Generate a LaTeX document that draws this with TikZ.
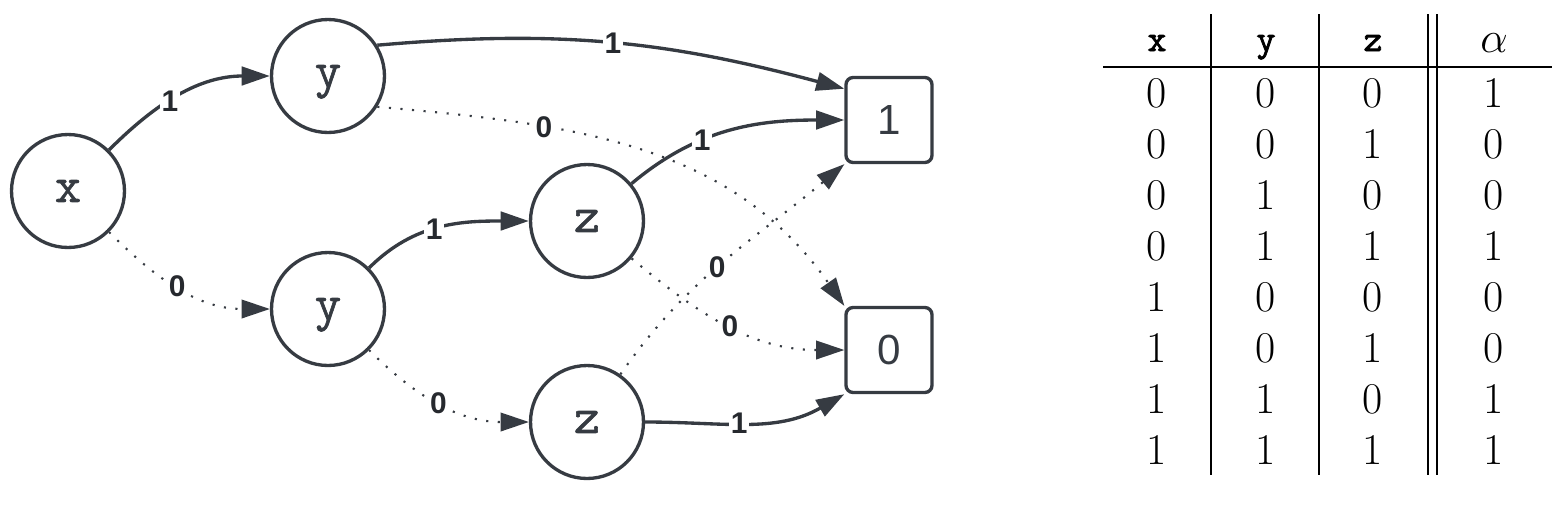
\documentclass[tikz,border=0pt]{standalone}
\usepackage{fontspec}
\setsansfont{Liberation Sans}
\newfontfamily\vartt{Latin Modern Mono}[FakeBold=1.2]
\newfontfamily\headtt{Latin Modern Mono}[FakeBold=2.2]
\usetikzlibrary{arrows.meta}
\definecolor{ink}{RGB}{54,59,66}
\tikzset{
    var/.style={draw=ink, circle, line width=1.9pt, minimum size=2.26cm, inner sep=0pt, text depth=0pt, text=ink, font=\fontsize{29}{32}\selectfont\vartt},
    leaf/.style={draw=ink, rectangle, rounded corners=4pt, line width=1.9pt, minimum width=1.72cm, minimum height=1.70cm, inner sep=0pt, text=ink, font=\fontsize{24}{28}\selectfont\sffamily},
    hi/.style={draw=ink, line width=1.9pt, -{Triangle[length=16pt,width=10.5pt]}},
    lo/.style={hi, line width=1.2pt, dash pattern=on 1.2pt off 5.4pt},
    lbl/.style={fill=white, inner sep=1pt, text=ink!70!black, font=\fontsize{17}{19}\selectfont\sffamily\bfseries},
    cell/.style={anchor=base, inner sep=0pt, font=\fontsize{25}{28}\selectfont},
    head/.style={anchor=base, inner sep=0pt, font=\fontsize{21}{24}\selectfont\headtt},
    rule/.style={draw=black, line width=1.1pt}
}
\begin{document}
\begin{tikzpicture}[x=0.02cm, y=-0.02cm]
        \useasboundingbox (0,0) rectangle (1566,508);
        % Decision diagram
        \node[var] (x) at (68,191) {x};
        \node[var] (y1) at (328,76) {y};
        \node[var] (y2) at (328,309) {y};
        \node[var] (z1) at (587,221) {z};
        \node[var] (z2) at (587,422) {z};
        \node[leaf] (one) at (889,120) {1};
        \node[leaf] (zero) at (889,350) {0};
        \foreach \s/\t/\o/\i/\k/\p/\v in {x/y1/45/180/hi/0.42/1, x/y2/-45/180/lo/0.47/0,
            y1.32/one.145/5/165/hi/0.5/1, y1.-32/zero.north west/-5/125/lo/0.3/0,
            y2/z1/45/180/hi/0.45/1, y2/z2/-45/180/lo/0.48/0,
            z1/one/40/180/hi/0.36/1, z1/zero/-40/180/lo/0.5/0,
            z2/one.south west/55/-140/lo/0.47/0, z2/zero.south west/0/-150/hi/0.45/1}
        {
            \draw[\k] (\s) to[out=\o,in=\i] node[lbl,pos=\p] {\v} (\t);
        }
        % Truth table
        \foreach \xx in {1211,1319,1428,1437}
            \draw[rule] (\xx,14) -- (\xx,475);
        \draw[rule] (1103,67) -- (1552,67);
        \node[head] (hx) at (1157,51) {x};
        \node[head] (hy) at (1266,51) {y};
        \node[head] (hz) at (1373,51) {z};
        \node[cell] (ha) at (1494,52) {$\alpha$};
        \foreach \a/\b/\c/\f [count=\r] in {0/0/0/1,0/0/1/0,0/1/0/0,0/1/1/1,1/0/0/0,1/0/1/0,1/1/0/1,1/1/1/1}
        {
            \node[cell] (a\r) at (1157,{56+51*\r}) {\a};
            \node[cell] (b\r) at (1266,{56+51*\r}) {\b};
            \node[cell] (c\r) at (1373,{56+51*\r}) {\c};
            \node[cell] (f\r) at (1494,{56+51*\r}) {\f};
        }
    \end{tikzpicture}
\end{document}
